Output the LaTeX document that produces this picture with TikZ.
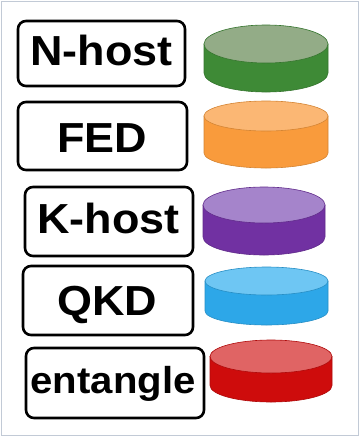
\documentclass[tikz,border=0pt]{standalone}
\usepackage{fontspec}
\setmainfont{Liberation Sans}[FakeStretch=1.07]
\begin{document}
\begin{tikzpicture}[x=1pt,y=-1pt,
  keybox/.style={draw=black,line width=2.6pt,rounded corners=8pt,fill=white},
  keytext/.style={anchor=base,inner sep=0pt,font=\fontsize{42}{42}\selectfont\bfseries},
  smalltext/.style={keytext,font=\fontsize{37.5}{37.5}\selectfont\bfseries}]
\definecolor{gside}{HTML}{3E8A36}\definecolor{gtop}{HTML}{93AC87}
\definecolor{oside}{HTML}{F99B3C}\definecolor{otop}{HTML}{FBB774}
\definecolor{pside}{HTML}{7131A2}\definecolor{ptop}{HTML}{A584CB}
\definecolor{bside}{HTML}{2DA7E8}\definecolor{btop}{HTML}{6EC6F3}
\definecolor{rside}{HTML}{CE0C0C}\definecolor{rtop}{HTML}{E06464}
\definecolor{frame}{HTML}{C2CAD6}
% disk: centre x, top-face centre y, x radius, y radius, depth, side colour, top colour
\newcommand\disk[7]{%
  \path[fill=#6,draw=#6!85!black,line width=0.6pt]
    ({#1-#3},#2) -- ({#1-#3},{#2+#5})
    arc[start angle=180,end angle=360,x radius=#3pt,y radius=#4pt]
    -- ({#1+#3},#2) -- cycle;
  \path[fill=#7,draw=#6!85!black,line width=0.6pt]
    (#1,#2) ellipse[x radius=#3pt,y radius=#4pt];}
\useasboundingbox (0,0) rectangle (360,437);
\draw[frame,line width=1pt] (1.5,1.5) rectangle (358.5,435.5);
% legend boxes
\path[keybox] (18,21) rectangle (185,86);
\path[keybox] (18,102) rectangle (187,170);
\path[keybox] (25,187) rectangle (193,256);
\path[keybox] (23,266) rectangle (193,335);
\path[keybox] (26,348) rectangle (204,418);
\node[keytext] (nhost) at (101.5,65) {N-host};
\node[keytext] (fed) at (102,152) {FED};
\node[keytext] (khost) at (108.5,233) {K-host};
\node[keytext] (qkd) at (107,315) {QKD};
\node[smalltext] (ent) at (113,393) {entangle};
% coloured disks
\disk{266}{44}{62}{19}{29}{gside}{gtop}
\disk{266}{116}{62}{15}{37}{oside}{otop}
\disk{264}{205}{61}{18}{32}{pside}{ptop}
\disk{266.5}{281}{61.5}{14}{30}{bside}{btop}
\disk{271}{356.5}{61}{16.5}{29}{rside}{rtop}
\end{tikzpicture}
\end{document}
